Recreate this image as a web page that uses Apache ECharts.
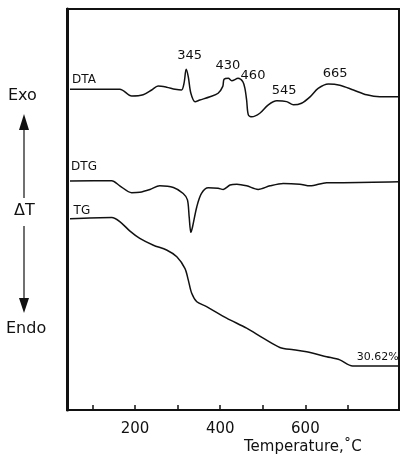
<!DOCTYPE html>
<html>
<head>
<meta charset="utf-8">
<script src="https://cdn.jsdelivr.net/npm/echarts@6/dist/echarts.min.js"></script>
<style>
  html, body { margin: 0; padding: 0; background: #fff; }
  #chart { width: 402px; height: 461px; }
</style>
</head>
<body>
<div id="chart"></div>
<script>
// temperature (°C) / trace height (arbitrary units, 0-100 over the plot)
var dtaTemp = [47, 164, 192, 219, 239, 254, 274, 294, 309, 315, 320, 325, 331, 341, 352, 376, 395, 406, 409, 419, 427, 442, 453, 458, 462, 466, 474, 493, 513, 533, 556, 572, 591, 611, 630, 654, 681, 713, 744, 775, 820];
var dtaVal  = [80.0, 80.0, 78.3, 78.6, 79.8, 80.8, 80.5, 80.0, 79.8, 81.5, 85.0, 83.1, 79.0, 76.9, 77.3, 78.1, 79.0, 80.7, 82.5, 82.7, 82.1, 82.7, 81.9, 80.2, 77.3, 73.6, 73.1, 74.0, 76.1, 77.1, 76.9, 76.1, 76.5, 78.1, 80.2, 81.3, 81.0, 79.8, 78.6, 78.1, 78.1];

var dtgTemp = [47, 145, 164, 192, 211, 235, 258, 290, 313, 323, 327, 331, 335, 345, 356, 372, 395, 407, 423, 439, 462, 489, 517, 548, 587, 611, 650, 689, 820];
var dtgVal  = [57.1, 57.2, 55.9, 54.2, 54.3, 55.0, 55.9, 55.5, 54.0, 52.4, 48.2, 44.3, 45.7, 50.7, 54.0, 55.4, 55.3, 55.0, 56.1, 56.3, 55.9, 55.0, 55.9, 56.5, 56.3, 55.9, 56.7, 56.7, 56.9];

var tgTemp = [47, 145, 164, 188, 211, 243, 274, 298, 317, 325, 333, 345, 368, 415, 462, 501, 540, 572, 603, 650, 681, 711, 820];
var tgVal  = [47.7, 48.0, 47.0, 44.6, 42.8, 41.1, 39.9, 38.2, 35.3, 32.4, 29.1, 27.0, 25.8, 22.9, 20.4, 17.9, 15.6, 15.0, 14.5, 13.3, 12.5, 11.0, 11.0];

var peakText = ['345', '430', '460', '545', '665'];
var peakTemp = [328, 418, 477, 550, 670];
var peakVal  = [88.3, 85.8, 83.5, 79.6, 84.0];

var tickValues  = [100, 200, 300, 400, 500, 600, 700];
var labelValues = [200, 400, 600];

var font = 'DejaVu Sans';
var ink = '#111';

function pairs(xs, ys) {
  return xs.map(function (x, i) { return [x, ys[i]]; });
}

function curve(name, xs, ys, tagTemp, tagVal, extra) {
  var marks = [{ coord: [tagTemp, tagVal], value: name }].concat(extra || []);
  return {
    name: name,
    type: 'line',
    data: pairs(xs, ys),
    showSymbol: false,
    smooth: 0.3,
    lineStyle: { color: ink, width: 1.5 },
    markPoint: {
      symbol: 'circle',
      symbolSize: 1,
      itemStyle: { color: 'rgba(0,0,0,0)' },
      label: {
        show: true, position: 'inside', color: ink,
        fontFamily: font, fontSize: 12,
        formatter: function (p) { return p.value; }
      },
      data: marks
    }
  };
}

var peakMarks = peakText.map(function (t, i) {
  return { coord: [peakTemp[i], peakVal[i]], value: t, label: { fontSize: 13 } };
});

var chart = echarts.init(document.getElementById('chart'));
chart.setOption({
  animation: false,
  backgroundColor: '#fff',
  grid: {
    left: 67, right: 3, top: 9, bottom: 51,
    show: true, borderColor: ink, borderWidth: 2
  },
  xAxis: {
    type: 'value', min: 40, max: 820,
    axisLine: { show: true, lineStyle: { color: ink, width: 2 } },
    axisTick: { show: true, inside: true, length: 5, customValues: tickValues, lineStyle: { color: ink, width: 1.5 } },
    axisLabel: { customValues: labelValues, color: ink, fontFamily: font, fontSize: 15, margin: 12 },
    splitLine: { show: false }
  },
  yAxis: {
    type: 'value', min: 0, max: 100,
    axisLine: { show: true, lineStyle: { color: ink, width: 3 } },
    axisTick: { show: false },
    axisLabel: { show: false },
    splitLine: { show: false }
  },
  graphic: [
    { type: 'text', left: 244, top: 440, style: { text: 'Temperature,\u02DAC', fill: ink, font: '15px "DejaVu Sans"' } },
    { type: 'text', left: 8, top: 88, style: { text: 'Exo', fill: ink, font: '16px "DejaVu Sans"' } },
    { type: 'text', left: 14, top: 203, style: { text: '\u0394T', fill: ink, font: '16px "DejaVu Sans"' } },
    { type: 'text', left: 6, top: 321, style: { text: 'Endo', fill: ink, font: '16px "DejaVu Sans"' } },
    { type: 'line', shape: { x1: 24, y1: 128, x2: 24, y2: 198 }, style: { stroke: ink, lineWidth: 1.2 } },
    { type: 'polygon', shape: { points: [[24, 114], [19, 130], [29, 130]] }, style: { fill: ink } },
    { type: 'line', shape: { x1: 24, y1: 226, x2: 24, y2: 300 }, style: { stroke: ink, lineWidth: 1.2 } },
    { type: 'polygon', shape: { points: [[24, 313], [19, 298], [29, 298]] }, style: { fill: ink } }
  ],
  series: [
    curve('DTA', dtaTemp, dtaVal, 80, 82.3, peakMarks),
    curve('DTG', dtgTemp, dtgVal, 80, 60.6),
    curve('TG', tgTemp, tgVal, 75, 49.7, [{ coord: [770, 13.3], value: '30.62%', label: { fontSize: 11 } }])
  ]
});
</script>
</body>
</html>
